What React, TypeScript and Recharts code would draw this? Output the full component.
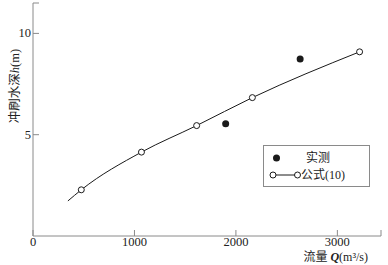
import { ComposedChart, Line, Scatter, XAxis, YAxis, Legend } from "recharts";

// 公式(10) curve (first point is where the line starts, no marker)
const formulaQ = [344, 476, 1069, 1613, 2162, 3219];
const formulaH = [1.73, 2.28, 4.14, 5.45, 6.83, 9.09];

// 实测 points
const measuredQ = [1899, 2633];
const measuredH = [5.54, 8.73];

const xTicks = [0, 1000, 2000, 3000, 3430];
const yTicks = [5, 10, 11.5];
const xLabelled = [0, 1000, 2000, 3000];
const yLabelled = [5, 10];

const formulaData = formulaQ.map((q, i) => ({ q, h: formulaH[i] }));
const measuredData = measuredQ.map((q, i) => ({ q, h: measuredH[i] }));

const FONT = "'Liberation Serif', 'DejaVu Serif', 'Noto Sans CJK SC', serif";
const AXIS = "#8a8a8a";
const INK = "#1a1a1a";
const TEXT = "#222";

function XTick({ x, y, payload }: any) {
  return (
    <g>
      <line x1={x} y1={y} x2={x} y2={y - 6} stroke={AXIS} />
      {xLabelled.includes(payload.value) && (
        <text x={x} y={y + 10} textAnchor="middle" fill={TEXT} style={{ fontFamily: FONT, fontSize: 12.5 }}>
          {payload.value}
        </text>
      )}
    </g>
  );
}

function YTick({ x, y, payload }: any) {
  return (
    <g>
      <line x1={x} y1={y} x2={x + 6} y2={y} stroke={AXIS} />
      {yLabelled.includes(payload.value) && (
        <text x={x - 2} y={y + 4} textAnchor="end" fill={TEXT} style={{ fontFamily: FONT, fontSize: 12.5 }}>
          {payload.value}
        </text>
      )}
    </g>
  );
}

function LegendBox() {
  return (
    <div style={{ width: 105, height: 40, border: `1px solid ${AXIS}`, background: "#fff" }}>
      <svg width={105} height={40} style={{ display: "block" }}>
        <circle cx={12.5} cy={12} r={3.5} fill={INK} />
        <text x={54} y={16} textAnchor="middle" fill={TEXT} style={{ fontFamily: FONT, fontSize: 12 }}>实测</text>
        <line x1={9} y1={29} x2={33.5} y2={29} stroke={INK} />
        <circle cx={9} cy={29} r={3} fill="#fff" stroke={INK} />
        <circle cx={33.5} cy={29} r={3} fill="#fff" stroke={INK} />
        <text x={37} y={33} fill={TEXT} style={{ fontFamily: FONT, fontSize: 12 }}>公式(10)</text>
      </svg>
    </div>
  );
}

function OpenDot(props: any) {
  const { cx, cy, index } = props;
  if (index === 0) return <g key={`d${index}`} />;
  return <circle key={`d${index}`} cx={cx} cy={cy} r={3} fill="#fff" stroke={INK} strokeWidth={1} />;
}

export default function App() {
  return (
    <div style={{ position: "absolute", left: 0, top: 0, background: "#fff" }}>
      <ComposedChart width={388} height={265} margin={{ top: 3, right: 7, left: 0, bottom: 0 }}>
        <XAxis
          type="number"
          dataKey="q"
          domain={[0, 3430]}
          ticks={xTicks}
          interval={0}
          height={29}
          tickSize={0}
          tickMargin={0}
          axisLine={{ stroke: AXIS }}
          tickLine={false}
          tick={<XTick />}
          allowDataOverflow
          label={{
            content: () => (
              <text x={368} y={261} textAnchor="end" fill={TEXT} style={{ fontFamily: FONT, fontSize: 12 }}>
                流量 <tspan fontStyle="italic" fontWeight="bold">Q</tspan>(m³/s)
              </text>
            ),
          }}
        />
        <YAxis
          type="number"
          domain={[0, 11.5]}
          ticks={yTicks}
          interval={0}
          width={33}
          tickSize={0}
          tickMargin={0}
          axisLine={{ stroke: AXIS }}
          tickLine={false}
          tick={<YTick />}
          allowDataOverflow
          label={{
            content: () => (
              <text
                x={15}
                y={86}
                transform="rotate(-90 15 86)"
                textAnchor="middle"
                dominantBaseline="central"
                fill={TEXT}
                style={{ fontFamily: FONT, fontSize: 12.5 }}
              >
                冲刷水深<tspan fontStyle="italic">h</tspan>(m)
              </text>
            ),
          }}
        />
        <Legend
          layout="horizontal"
          verticalAlign="middle"
          align="center"
          content={() => <LegendBox />}
          wrapperStyle={{ left: 263, top: 145, width: 107, height: 42 }}
        />
        <Line
          data={formulaData}
          dataKey="h"
          type="monotone"
          stroke={INK}
          strokeWidth={1}
          dot={<OpenDot />}
          activeDot={false}
          isAnimationActive={false}
        />
        <Scatter
          data={measuredData}
          dataKey="h"
          fill={INK}
          shape={(p: any) => <circle cx={p.cx} cy={p.cy} r={3.5} fill={INK} />}
          isAnimationActive={false}
        />
      </ComposedChart>
    </div>
  );
}
